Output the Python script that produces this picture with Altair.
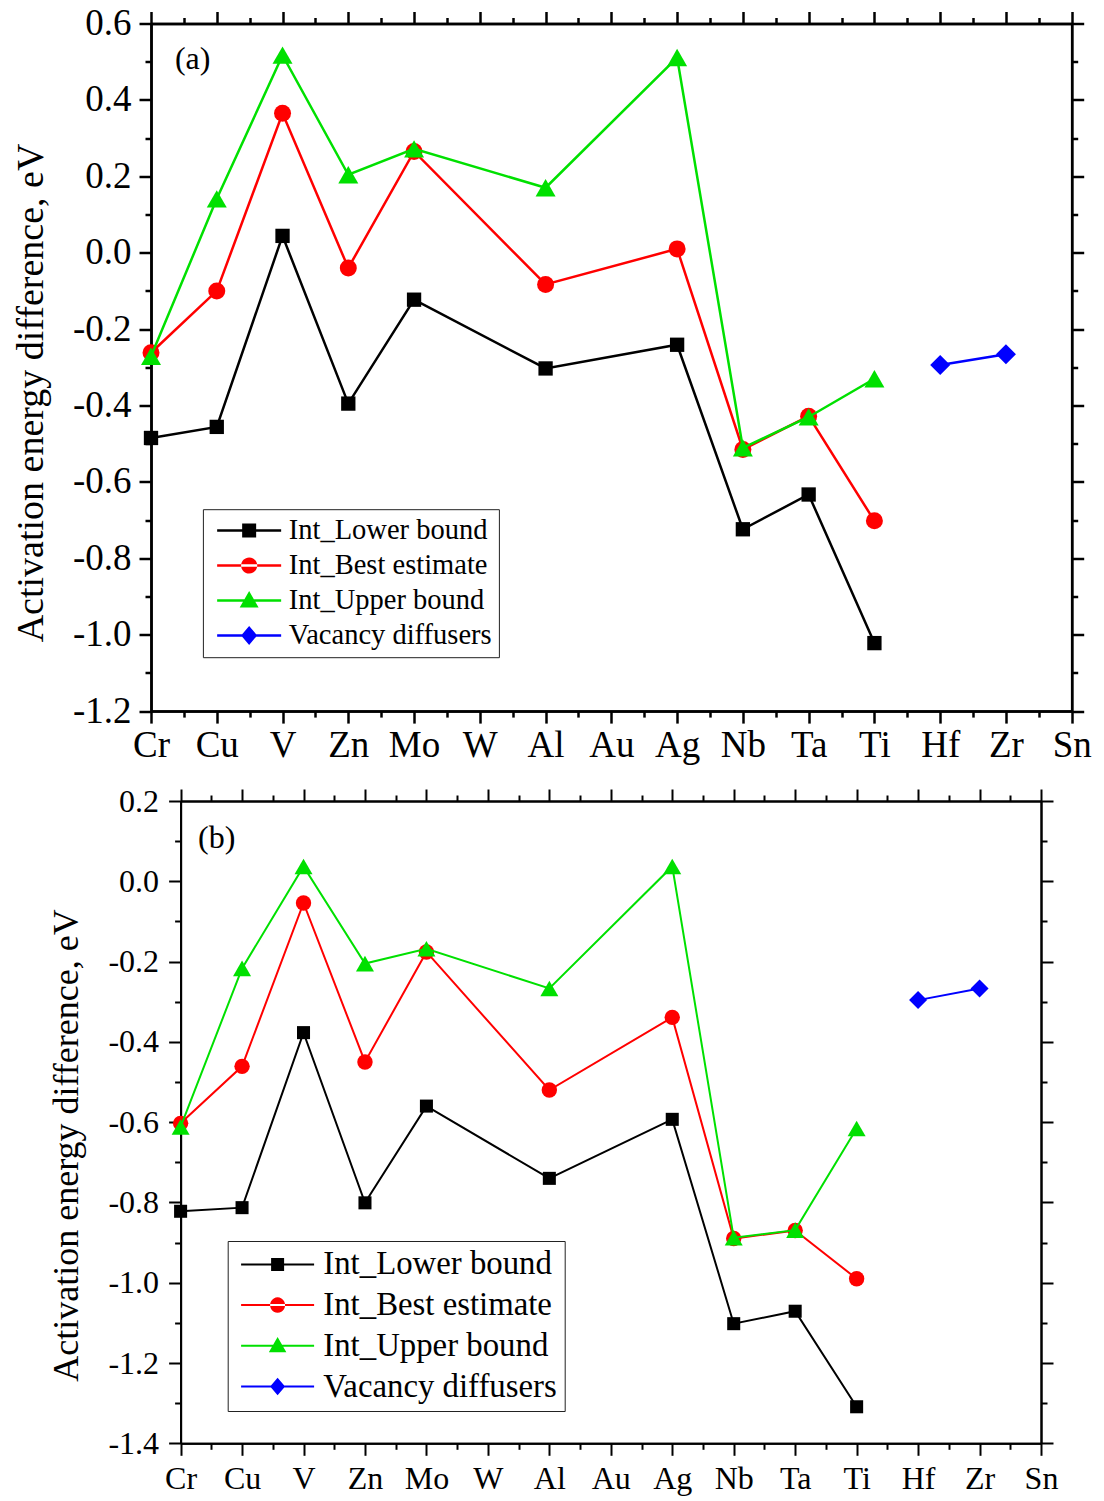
import altair as alt
import pandas as pd

# ---------------- data ----------------
elements = ["Cr", "Cu", "V", "Zn", "Mo", "W", "Al", "Au", "Ag", "Nb", "Ta", "Ti", "Hf", "Zr", "Sn"]
int_elements = ["Cr", "Cu", "V", "Zn", "Mo", "Al", "Ag", "Nb", "Ta", "Ti"]
vac_elements = ["Hf", "Zr"]

series_names = ["Int_Lower bound", "Int_Best estimate", "Int_Upper bound", "Vacancy diffusers"]
series_colors = ["#000000", "#ff0000", "#00e000", "#0000ff"]
series_shapes = ["square", "circle", "triangle-up", "diamond"]

# panel (a)
lower_a = [-0.485, -0.456, 0.044, -0.395, -0.123, -0.303, -0.241, -0.724, -0.633, -1.022]
best_a = [-0.262, -0.100, 0.365, -0.040, 0.265, -0.083, 0.010, -0.515, -0.428, -0.702]
upper_a = [-0.271, 0.141, 0.517, 0.204, 0.272, 0.170, 0.511, -0.511, -0.430, -0.330]
vac_a = [-0.294, -0.266]

# panel (b)
lower_b = [-0.822, -0.813, -0.377, -0.801, -0.560, -0.740, -0.593, -1.102, -1.071, -1.309]
best_b = [-0.603, -0.461, -0.054, -0.450, -0.176, -0.520, -0.339, -0.890, -0.870, -0.990]
upper_b = [-0.612, -0.217, 0.037, -0.205, -0.168, -0.267, 0.037, -0.888, -0.869, -0.616]
vac_b = [-0.296, -0.267]

y_ticks_a = [-1.2, -1.0, -0.8, -0.6, -0.4, -0.2, 0.0, 0.2, 0.4, 0.6]
y_minor_a = [-1.1, -0.9, -0.7, -0.5, -0.3, -0.1, 0.1, 0.3, 0.5]
y_ticks_b = [-1.4, -1.2, -1.0, -0.8, -0.6, -0.4, -0.2, 0.0, 0.2]
y_minor_b = [-1.3, -1.1, -0.9, -0.7, -0.5, -0.3, -0.1, 0.1]

y_title = "Activation energy difference, eV"
FONT = "Liberation Serif"


def make_df(lower, best, upper, vac):
    rows = []
    for name, els, vals in zip(series_names, [int_elements] * 3 + [vac_elements],
                               [lower, best, upper, vac]):
        for e, v in zip(els, vals):
            rows.append({"idx": elements.index(e), "elem": e, "value": v, "series": name})
    return pd.DataFrame(rows)


x_major = list(range(len(elements)))
x_minor = [i + 0.5 for i in range(len(elements) - 1)]
x_label_expr = "[" + ",".join("'%s'" % e for e in elements) + "][round(datum.value)]"
y_label_expr = "replace(format(datum.value, '.1f'), '\u2212', '-')"


def legend_paths(unit, start_px, line_px, lw_px, mk_px):
    """Legend glyphs '-marker-' as SVG paths; one path unit = unit/2 px."""
    s = unit / 2.0
    x0 = start_px / s
    x1 = x0 + line_px / s
    c = (x0 + x1) / 2.0
    h = lw_px / 2.0 / s
    m = mk_px / 2.0 / s
    bar = "M%.3f,%.3fH%.3fV%.3fH%.3fZ " % (x0, -h, x1, h, x0)
    sq = "M%.3f,%.3fH%.3fV%.3fH%.3fZ" % (c - m, -m, c + m, m, c - m)
    r = m * 1.15
    ci = "M%.3f,0A%.3f,%.3f 0 1,0 %.3f,0A%.3f,%.3f 0 1,0 %.3f,0Z" % (c - r, r, r, c + r, r, r, c - r)
    tri = "M%.3f,%.3fL%.3f,%.3fL%.3f,%.3fZ" % (c, -m * 1.35, c + m * 1.35, m * 1.0, c - m * 1.35, m * 1.0)
    dia = "M%.3f,%.3fL%.3f,0L%.3f,%.3fL%.3f,0Z" % (c, -m * 1.35, c + m * 1.15, c, m * 1.35, c - m * 1.15)
    return [bar + sq, bar + ci, bar + tri, bar + dia]


def panel(df, c):
    xs = alt.Scale(domain=[0, 14], range=c["xrange"], nice=False, zero=False)
    ys = alt.Scale(domain=c["ydom"], nice=False, zero=False)
    st = dict(domainColor="black", domainWidth=c["aw"], tickColor="black",
              tickWidth=c["aw"], grid=False, title=None)

    ax_bottom = alt.Axis(orient="bottom", values=x_major, labelExpr=x_label_expr,
                         labelFont=FONT, labelFontSize=c["lfs"], labelColor="black",
                         labelPadding=c["xlp"], labelFlush=False, labelOverlap=False,
                         tickSize=12, **st)
    ax_bottom_m = alt.Axis(orient="bottom", values=x_minor, labels=False, tickSize=6, **st)
    ax_top = alt.Axis(orient="top", values=x_major, labels=False, tickSize=12, **st)
    ax_top_m = alt.Axis(orient="top", values=x_minor, labels=False, tickSize=6, **st)

    st_y = dict(st)
    st_y.pop("title")
    ax_left = alt.Axis(orient="left", values=c["yt"], labelExpr=y_label_expr,
                       labelFont=FONT, labelFontSize=c["lfs"], labelColor="black",
                       labelPadding=c["ylp"], labelFlush=False, labelOverlap=False,
                       tickSize=12, offset=c["yoff"], title=y_title, titleFont=FONT,
                       titleFontSize=c["tfs"], titleFontWeight="normal", titleColor="black",
                       titlePadding=c["tp"], titleY=c["titley"], **st_y)
    ax_left_m = alt.Axis(orient="left", values=c["ym"], labels=False, tickSize=6,
                         offset=c["yoff"], **st)
    ax_right = alt.Axis(orient="right", values=c["yt"], labels=False, tickSize=12, **st)
    ax_right_m = alt.Axis(orient="right", values=c["ym"], labels=False, tickSize=6, **st)

    axes = [(ax_bottom, ax_left), (ax_bottom_m, ax_left_m), (ax_top, ax_right),
            (ax_top_m, ax_right_m)]

    layers = []
    k = 0
    for name, col, shp, sz in zip(series_names, series_colors, series_shapes, c["sizes"]):
        sub = df[df["series"] == name]
        for kind in ("line", "point"):
            if k < len(axes):
                xa, ya = axes[k]
            else:
                xa, ya = None, None
            k += 1
            base = alt.Chart(sub)
            if kind == "line":
                mk = base.mark_line(color=col, strokeWidth=c["lw"])
            else:
                mk = base.mark_point(color=col, filled=True, opacity=1, shape=shp, size=sz)
            layers.append(mk.encode(
                x=alt.X("idx:Q", scale=xs, axis=xa),
                y=alt.Y("value:Q", scale=ys, axis=ya),
                order=alt.Order("idx:Q"),
            ))

    leg = alt.Legend(orient="none", legendX=c["legx"], legendY=c["legy"], title=None,
                     labelFont=FONT, labelFontSize=c["legfs"], labelColor="black",
                     labelLimit=0, labelExpr=c["legexpr"],
                     symbolSize=c["unit"] ** 2, symbolStrokeWidth=0,
                     symbolOpacity=1, strokeColor="#222222", fillColor="white",
                     padding=c["legpad"], rowPadding=c["rowpad"], labelOffset=c["laboff"],
                     direction="vertical")
    carrier = alt.Chart(df).transform_filter("false").mark_point(filled=True, opacity=1).encode(
        color=alt.Color("series:N", scale=alt.Scale(domain=series_names, range=series_colors),
                        legend=leg),
        shape=alt.Shape("series:N", scale=alt.Scale(domain=series_names, range=c["paths"]),
                        legend=leg),
    )
    layers.append(carrier)

    label = alt.Chart(pd.DataFrame({"t": [c["tag"]]})).mark_text(
        font=FONT, fontSize=c["tagfs"], color="black", align="center", baseline="middle"
    ).encode(text="t:N", x=alt.value(c["tagx"]), y=alt.value(c["tagy"]))
    layers.append(label)

    return alt.layer(*layers).resolve_axis(x="independent", y="independent").properties(
        width=c["w"], height=c["h"])


df_a = make_df(lower_a, best_a, upper_a, vac_a)
df_b = make_df(lower_b, best_b, upper_b, vac_b)

unit_a, line_a = 16, 64
unit_b, line_b = 18, 73
cfg_a = dict(xrange=[0, 920.7], ydom=[-1.2, 0.6], yt=y_ticks_a, ym=y_minor_a, aw=2.5,
             lfs=37, tfs=38, xlp=4, ylp=8, tp=22, titley=369, yoff=0, lw=2.5,
             sizes=[205, 289, 400, 400], legx=51.9, legy=485.7, legfs=28.5,
             legexpr="datum.label + '\u2009\u200a'",
             unit=unit_a, legpad=7, rowpad=6, laboff=50.4,
             paths=legend_paths(unit_a, -7, line_a, 2.5, 14), tag="(a)", tagfs=32,
             tagx=41.7, tagy=35, w=920.7, h=687.6)
cfg_b = dict(xrange=[29.6, 890], ydom=[-1.4, 0.2], yt=y_ticks_b, ym=y_minor_b, aw=2,
             lfs=32, tfs=36, xlp=8, ylp=10, tp=22, titley=344, yoff=-29.6, lw=2,
             sizes=[170, 237, 324, 324], legx=76.7, legy=440, legfs=32.8,
             legexpr="datum.label + '\u2009'",
             unit=unit_b, legpad=7, rowpad=6.7, laboff=55.8,
             paths=legend_paths(unit_b, -10, line_b, 2, 13), tag="(b)", tagfs=32,
             tagx=65.7, tagy=37, w=890, h=642.3)

chart = alt.vconcat(panel(df_a, cfg_a), panel(df_b, cfg_b), spacing=21.5).resolve_scale(
    color="independent", shape="independent").resolve_legend(
    color="independent", shape="independent").configure_view(
    stroke=None).properties(padding={"left": 12, "top": 4.5, "right": 5, "bottom": 5},
                            background="white")

chart.save("out.html", embed_options={"renderer": "svg", "actions": False})
